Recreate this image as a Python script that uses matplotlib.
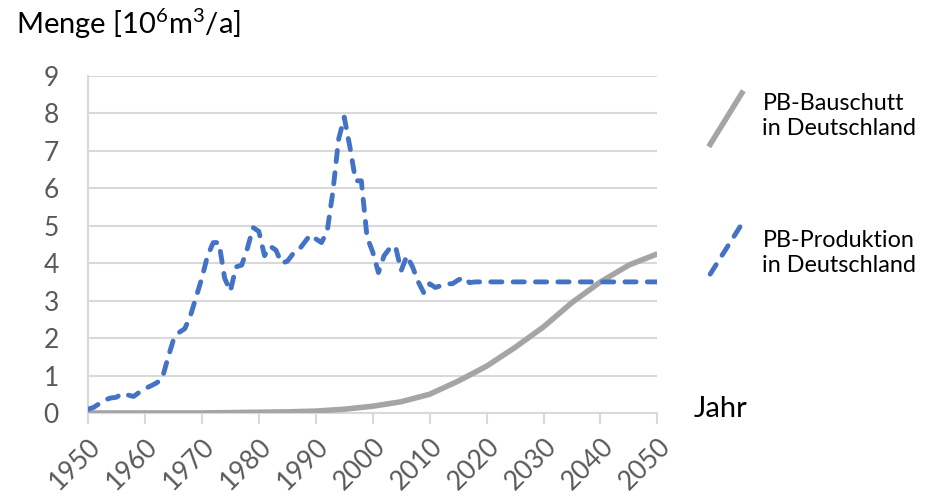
import matplotlib.pyplot as plt
from matplotlib.lines import Line2D

plt.rcParams['font.family'] = ['Lato', 'DejaVu Sans']
plt.rcParams['mathtext.fontset'] = 'custom'
plt.rcParams['mathtext.rm'] = 'Lato'

# PB-Produktion in Deutschland, jährliche Werte [10^6 m³/a]
jahre_prod = list(range(1950, 2051))
prod = [0.10, 0.15, 0.25, 0.35, 0.40, 0.42, 0.52, 0.48, 0.44, 0.55,
        0.65, 0.72, 0.80, 0.90, 1.45, 1.95, 2.15, 2.25, 2.60, 3.10,
        3.60, 4.20, 4.55, 4.55, 3.60, 3.25, 3.90, 3.95, 4.40, 4.95,
        4.85, 4.20, 4.45, 4.35, 4.00, 4.05, 4.25, 4.35, 4.55, 4.75,
        4.65, 4.55, 4.85, 5.90, 7.30, 7.90, 7.10, 6.20, 6.20, 4.70,
        4.30, 3.75, 4.20, 4.40, 4.45, 3.80, 4.20, 3.90, 3.50, 3.20,
        3.45, 3.35, 3.40, 3.45, 3.45, 3.55, 3.62, 3.48]
prod += [3.50] * (len(jahre_prod) - len(prod))

# PB-Bauschutt in Deutschland (Prognose)
jahre_schutt = list(range(1950, 2051, 5))
schutt = [0.0, 0.0, 0.0, 0.0, 0.0, 0.01, 0.02, 0.03, 0.05, 0.10,
          0.18, 0.30, 0.50, 0.85, 1.25, 1.75, 2.30, 2.95, 3.50, 3.95, 4.25]

xticks = list(range(1950, 2051, 10))
yticks = list(range(0, 10))

grau = '#a5a5a5'
blau = '#4472c4'
gitter = '#d9d9d9'
textgrau = '#595959'

fig = plt.figure(figsize=(9.32, 5.03), dpi=100)
ax = fig.add_axes([0.0944, 0.179, 0.611, 0.670])

ax.plot(jahre_schutt, schutt, color=grau, lw=4.0, solid_capstyle='butt', zorder=3)
ax.plot(jahre_prod, prod, color=blau, lw=3.5, dashes=(2.3, 2.3),
        dash_capstyle='round', zorder=4)

ax.set_xlim(1950, 2050)
ax.set_ylim(0, 9)
ax.set_xticks(xticks)
ax.set_yticks(yticks)
ax.set_xticklabels([str(j) for j in xticks], rotation=45, ha='right',
                   rotation_mode='anchor', fontsize=19, color=textgrau)
ax.set_yticklabels([str(v) for v in yticks], fontsize=19, color=textgrau)
ax.tick_params(axis='x', length=8, width=1.5, color=gitter, pad=7)
ax.tick_params(axis='y', length=0, pad=21)
ax.grid(axis='y', color=gitter, lw=1.5)
ax.set_axisbelow(True)
for s in ['top', 'right']:
    ax.spines[s].set_visible(False)
for s in ['left', 'bottom']:
    ax.spines[s].set_color(gitter)
    ax.spines[s].set_linewidth(1.5)

fig.text(0.017, 0.952, r'Menge [10$\mathregular{^6}$m$\mathregular{^3}$/a]',
         fontsize=21, color='black', va='center')
fig.text(0.744, 0.186, 'Jahr', fontsize=21, color='black', va='center')

# Legende rechts neben dem Diagramm
fig.add_artist(Line2D([0.762, 0.796], [0.713, 0.815], color=grau, lw=4.0,
                      transform=fig.transFigure))
fig.add_artist(Line2D([0.762, 0.796], [0.455, 0.555], color=blau, lw=3.5,
                      dashes=(2.3, 2.3), dash_capstyle='round',
                      transform=fig.transFigure))
fig.text(0.818, 0.769, 'PB-Bauschutt\nin Deutschland', fontsize=16.8,
         va='center', linespacing=1.25)
fig.text(0.818, 0.497, 'PB-Produktion\nin Deutschland', fontsize=16.8,
         va='center', linespacing=1.25)

fig.savefig('out.png', dpi=100)
